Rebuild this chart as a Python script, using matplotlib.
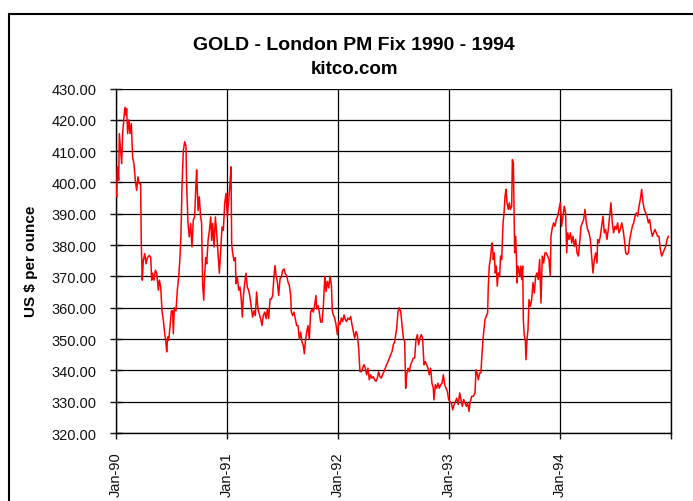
import matplotlib
matplotlib.use("Agg")
import matplotlib.pyplot as plt
from matplotlib.patches import Rectangle

# decimal year of each reading, and the London PM fix in US $ per ounce
years = [
    1990.000, 1990.006, 1990.012, 1990.024, 1990.030, 1990.042, 1990.051, 1990.060, 1990.072, 1990.081,
    1990.090, 1990.096, 1990.105, 1990.117, 1990.126, 1990.138, 1990.150, 1990.162, 1990.174, 1990.186,
    1990.198, 1990.210, 1990.222, 1990.228, 1990.237, 1990.246, 1990.259, 1990.271, 1990.283, 1990.301,
    1990.313, 1990.322, 1990.331, 1990.343, 1990.355, 1990.367, 1990.382, 1990.391, 1990.403, 1990.415,
    1990.427, 1990.436, 1990.451, 1990.457, 1990.466, 1990.475, 1990.487, 1990.499, 1990.511, 1990.517,
    1990.526, 1990.541, 1990.553, 1990.565, 1990.577, 1990.586, 1990.595,
    1990.607, 1990.619, 1990.631, 1990.637, 1990.649, 1990.661, 1990.673, 1990.685, 1990.697, 1990.709,
    1990.721, 1990.727, 1990.740, 1990.751, 1990.763, 1990.772, 1990.781, 1990.791, 1990.800, 1990.809,
    1990.818, 1990.830, 1990.842, 1990.854, 1990.863, 1990.872, 1990.884, 1990.896, 1990.908, 1990.920,
    1990.932, 1990.944, 1990.956, 1990.968, 1990.980, 1990.992, 1991.004, 1991.016, 1991.028, 1991.037,
    1991.043, 1991.052, 1991.064, 1991.076, 1991.082, 1991.094, 1991.106, 1991.118, 1991.130, 1991.139,
    1991.148, 1991.160, 1991.172, 1991.184, 1991.196, 1991.208, 1991.220, 1991.232, 1991.244,
    1991.256, 1991.268, 1991.280, 1991.292, 1991.304, 1991.316, 1991.328, 1991.341, 1991.353, 1991.365,
    1991.377, 1991.389, 1991.401, 1991.413, 1991.425, 1991.434, 1991.443, 1991.455, 1991.467, 1991.479,
    1991.491, 1991.503, 1991.515, 1991.527, 1991.539, 1991.551, 1991.563, 1991.575, 1991.581, 1991.593,
    1991.605, 1991.617, 1991.629, 1991.641, 1991.653, 1991.665, 1991.677, 1991.689, 1991.698, 1991.707,
    1991.719, 1991.731, 1991.743, 1991.755, 1991.767, 1991.779, 1991.791, 1991.803, 1991.809, 1991.821,
    1991.833, 1991.845, 1991.858, 1991.870, 1991.882,
    1991.885, 1991.894, 1991.906, 1991.918, 1991.930, 1991.942, 1991.951, 1991.960, 1991.972, 1991.984,
    1991.996, 1992.008, 1992.020, 1992.032, 1992.044, 1992.056, 1992.068, 1992.080, 1992.092, 1992.104,
    1992.116, 1992.128, 1992.140, 1992.152, 1992.164, 1992.176, 1992.188, 1992.200, 1992.212, 1992.224,
    1992.236, 1992.248, 1992.260, 1992.272, 1992.284, 1992.296, 1992.308, 1992.320, 1992.332, 1992.344,
    1992.356, 1992.368, 1992.380, 1992.392, 1992.404, 1992.416, 1992.428, 1992.440, 1992.453, 1992.465,
    1992.477, 1992.489, 1992.501, 1992.513,
    1992.531, 1992.543, 1992.555, 1992.567, 1992.579, 1992.591, 1992.603, 1992.612, 1992.621, 1992.633,
    1992.645, 1992.657, 1992.669, 1992.681, 1992.693, 1992.705, 1992.717, 1992.729, 1992.741, 1992.753,
    1992.765, 1992.777, 1992.789, 1992.801, 1992.813, 1992.825, 1992.837, 1992.849, 1992.861, 1992.867,
    1992.879, 1992.891, 1992.903, 1992.915, 1992.927, 1992.940, 1992.952, 1992.964, 1992.976, 1992.988,
    1993.000, 1993.012, 1993.024, 1993.036, 1993.048, 1993.060, 1993.072,
    1993.087, 1993.099, 1993.111, 1993.123, 1993.135, 1993.147, 1993.159, 1993.171, 1993.183, 1993.192,
    1993.207, 1993.222, 1993.237, 1993.246, 1993.255, 1993.267, 1993.279, 1993.291, 1993.297, 1993.309,
    1993.318, 1993.327, 1993.339, 1993.351, 1993.357, 1993.366, 1993.375, 1993.387, 1993.393, 1993.402,
    1993.411, 1993.420, 1993.429, 1993.438, 1993.447, 1993.459, 1993.468, 1993.478, 1993.490, 1993.499,
    1993.508, 1993.517, 1993.526, 1993.538, 1993.547, 1993.556, 1993.568, 1993.574, 1993.583, 1993.589,
    1993.595, 1993.604, 1993.610, 1993.616, 1993.622, 1993.631, 1993.640, 1993.649, 1993.658, 1993.667,
    1993.673, 1993.682, 1993.691, 1993.697, 1993.706, 1993.715, 1993.724,
    1993.736, 1993.748, 1993.760, 1993.772, 1993.784, 1993.796, 1993.808, 1993.820, 1993.832, 1993.844,
    1993.856, 1993.868, 1993.880, 1993.892, 1993.904, 1993.916, 1993.922, 1993.934, 1993.946, 1993.958,
    1993.970, 1993.982, 1993.994, 1994.006, 1994.018, 1994.030, 1994.042, 1994.054, 1994.064, 1994.073,
    1994.085, 1994.097, 1994.109, 1994.121, 1994.133, 1994.145, 1994.157, 1994.169, 1994.181, 1994.193,
    1994.205, 1994.217, 1994.229, 1994.241, 1994.253, 1994.265, 1994.277, 1994.289, 1994.301, 1994.313,
    1994.325, 1994.337,
    1994.343, 1994.355, 1994.367, 1994.379, 1994.391, 1994.403, 1994.415, 1994.427, 1994.439, 1994.451,
    1994.463, 1994.475, 1994.487, 1994.499, 1994.511, 1994.523, 1994.535, 1994.547, 1994.560, 1994.572,
    1994.584, 1994.596, 1994.608, 1994.620, 1994.632, 1994.644, 1994.656, 1994.668, 1994.680, 1994.692,
    1994.704, 1994.716, 1994.728, 1994.740, 1994.752, 1994.764, 1994.776, 1994.788, 1994.800, 1994.812,
    1994.824, 1994.836, 1994.848, 1994.860, 1994.872, 1994.884, 1994.896, 1994.908, 1994.920, 1994.932,
    1994.945, 1994.957, 1994.969, 1994.981,
]

prices = [
    397.5, 395.4, 405.0, 400.7, 415.6, 410.0, 406.0, 415.6, 421.0, 424.0,
    421.5, 423.6, 415.6, 420.0, 415.6, 418.8, 408.0, 406.0, 400.7, 397.5,
    401.8, 399.6, 399.6, 380.5, 368.8, 375.0, 377.3, 374.0, 376.0, 376.7,
    376.0, 368.8, 371.0, 368.8, 372.0, 371.0, 365.6, 368.8, 366.6, 359.0,
    356.0, 352.8, 348.5, 345.9, 350.7, 349.6, 353.9, 359.0, 359.0, 351.7,
    360.0, 359.0, 365.6, 369.8, 376.0, 383.7, 398.6,
    410.0, 413.0, 411.6, 399.6, 386.9, 382.6, 386.9, 379.4, 388.0, 389.0,
    399.6, 404.0, 391.0, 395.4, 389.0, 386.9, 367.7, 362.4, 371.0, 376.0,
    374.0, 381.5, 384.7, 389.0, 381.5, 386.9, 379.4, 389.0, 383.7, 377.3,
    371.0, 378.4, 385.8, 384.7, 393.3, 396.5, 389.0, 394.4, 399.6, 405.0,
    380.5, 377.3, 375.0, 376.0, 367.7, 369.8, 365.6, 366.6, 362.4, 357.0,
    363.4, 367.7, 371.0, 366.6, 365.6, 363.4, 360.0, 357.0, 359.0,
    357.5, 365.0, 359.6, 358.0, 356.5, 354.3, 357.5, 358.6, 356.5, 359.6,
    356.5, 362.8, 362.8, 363.9, 370.3, 373.5, 370.3, 368.2, 363.9, 369.2,
    369.8, 371.9, 372.4, 370.8, 370.3, 368.2, 367.1, 363.9, 358.6, 357.5,
    358.6, 356.5, 354.3, 354.3, 350.0, 352.2, 349.0, 348.0, 345.3, 349.0,
    352.2, 354.3, 350.0, 358.6, 359.6, 358.6, 360.7, 363.9, 359.6, 360.7,
    358.6, 355.4, 355.4, 360.7, 369.2,
    370.0, 365.2, 368.4, 366.3, 370.0, 367.3, 358.8, 357.7, 356.7, 354.6,
    351.4, 355.6, 354.6, 356.7, 355.6, 357.7, 356.2, 355.6, 356.7, 356.2,
    357.2, 354.6, 352.4, 350.3, 352.4, 351.4, 347.1, 339.6, 339.6, 340.7,
    341.8, 340.7, 338.6, 340.7, 337.0, 338.6, 337.5, 338.0, 337.0, 336.5,
    337.5, 339.6, 338.0, 337.5, 338.6, 339.6, 340.7, 341.8, 342.8, 343.9,
    345.0, 346.0, 348.2, 349.2,
    353.5, 358.8, 360.0, 358.8, 354.6, 350.3, 349.2, 334.3, 338.6, 340.7,
    339.6, 341.8, 342.8, 343.9, 343.9, 349.8, 351.4, 348.2, 350.3, 351.4,
    350.3, 341.8, 342.8, 341.8, 340.7, 338.6, 340.7, 335.9, 334.3, 330.6,
    335.4, 334.3, 335.9, 334.3, 335.4, 335.9, 338.6, 335.4, 334.3, 333.3,
    330.6, 330.0, 329.5, 327.4, 329.0, 330.0, 331.1,
    329.1, 332.8, 330.7, 328.5, 330.7, 329.6, 328.5, 329.6, 326.9, 329.6,
    331.7, 331.7, 332.8, 340.2, 339.2, 337.0, 339.2, 339.2, 343.4, 349.8,
    353.0, 356.2, 357.3, 358.3, 366.9, 373.3, 375.4, 379.6, 380.7, 375.4,
    377.5, 371.1, 373.3, 366.9, 371.1, 370.0, 376.5, 375.4, 387.1, 390.3,
    395.6, 397.8, 393.5, 391.4, 393.5, 391.4, 392.4, 407.3, 406.3, 392.4,
    377.5, 382.8, 376.5, 367.9, 373.3, 372.2, 370.0, 373.3, 369.0, 373.3,
    356.2, 350.9, 349.8, 343.4, 349.8, 353.0, 362.6,
    360.5, 362.6, 368.0, 364.7, 370.1, 371.1, 369.0, 375.4, 361.5, 376.5,
    374.3, 377.5, 377.5, 376.5, 375.4, 370.1, 382.8, 385.5, 387.1, 386.0,
    388.2, 389.2, 391.4, 393.5, 386.0, 389.2, 392.4, 390.3, 377.5, 383.9,
    381.8, 383.9, 380.7, 382.8, 379.6, 381.8, 377.5, 376.5, 380.7, 386.0,
    387.1, 388.2, 391.4, 387.1, 385.0, 383.9, 381.8, 376.5, 371.1, 375.4,
    377.5, 374.3,
    381.8, 380.7, 382.8, 386.0, 389.2, 383.9, 385.0, 381.8, 385.0, 389.2,
    393.5, 387.1, 383.9, 386.0, 385.0, 387.1, 383.9, 385.0, 387.1, 385.0,
    381.8, 377.5, 377.0, 377.5, 381.8, 383.9, 386.0, 387.1, 389.2, 390.3,
    389.2, 392.4, 394.6, 397.8, 393.5, 391.4, 390.3, 389.2, 387.1, 388.2,
    385.0, 382.8, 383.9, 385.0, 383.9, 382.8, 382.8, 378.6, 376.5, 377.5,
    378.6, 379.6, 381.8, 382.8,
]

tick_years = [1990, 1991, 1992, 1993, 1994, 1995]
tick_labels = ["Jan-90", "Jan-91", "Jan-92", "Jan-93", "Jan-94", ""]
price_ticks = list(range(320, 431, 10))

plt.rcParams['font.family'] = ['Liberation Sans', 'DejaVu Sans']

fig = plt.figure(figsize=(6.93, 5.02), dpi=100)
ax = fig.add_axes([116 / 693, 1 - 434 / 502, (670.5 - 116) / 693, (434 - 89.5) / 502])

# outer chart frame, running off the right and bottom edges
fig.patches.append(Rectangle((9 / 693, -0.2), 1.2, 0.2 + (1 - 15 / 502), fill=False,
                             edgecolor='black', linewidth=1.5, transform=fig.transFigure,
                             clip_on=False))

ax.plot(years, prices, color='#ff0000', linewidth=1.1, zorder=3)

ax.set_xlim(1990, 1995)
ax.set_ylim(320, 430)
ax.set_xticks(tick_years)
ax.set_xticklabels(tick_labels, rotation=90, fontsize=10.5)
ax.set_yticks(price_ticks)
ax.set_yticklabels(["%.2f" % p for p in price_ticks], fontsize=10.5)
ax.grid(True, color='black', linewidth=0.9)
ax.set_axisbelow(True)
for side in ['left', 'bottom', 'right']:
    ax.spines[side].set_color('black')
    ax.spines[side].set_linewidth(1.0)
ax.spines['top'].set_visible(False)
ax.tick_params(axis='y', direction='inout', length=8, width=1, pad=10, colors='#111111')
ax.tick_params(axis='x', direction='out', length=4, width=1, pad=9, colors='#111111')

ax.set_ylabel("US $ per ounce", fontsize=11, fontweight='bold', labelpad=10)

fig.text(354 / 693, 1 - 46 / 502, "GOLD - London PM Fix 1990 - 1994", ha='center', va='center',
         fontsize=14, fontweight='bold')
fig.text(354 / 693, 1 - 70 / 502, "kitco.com", ha='center', va='center',
         fontsize=13.5, fontweight='bold')

fig.savefig("out.png", dpi=100)
